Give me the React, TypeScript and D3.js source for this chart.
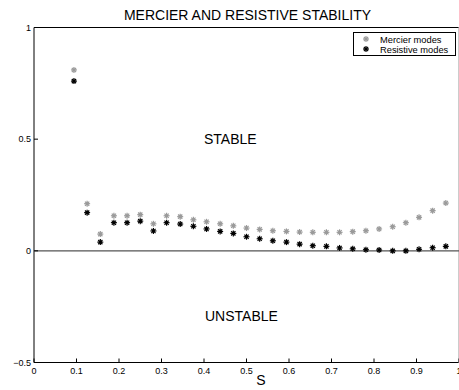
import React, { useRef, useEffect } from "react";
import * as d3 from "d3";

// S values (k/32)
const sValues = [
  0.094, 0.125, 0.156, 0.188, 0.219, 0.25, 0.281, 0.312, 0.344, 0.375, 0.406,
  0.438, 0.469, 0.5, 0.531, 0.562, 0.594, 0.625, 0.656, 0.688, 0.719, 0.75,
  0.781, 0.812, 0.844, 0.875, 0.906, 0.938, 0.969,
];
const mercier = [
  0.81, 0.211, 0.075, 0.157, 0.157, 0.162, 0.121, 0.157, 0.153, 0.139, 0.13,
  0.121, 0.112, 0.102, 0.096, 0.09, 0.087, 0.084, 0.083, 0.083, 0.083, 0.086,
  0.09, 0.098, 0.108, 0.126, 0.15, 0.18, 0.214,
];
const resistive = [
  0.76, 0.171, 0.039, 0.126, 0.126, 0.133, 0.089, 0.126, 0.12, 0.11, 0.098,
  0.087, 0.078, 0.063, 0.054, 0.045, 0.039, 0.03, 0.023, 0.02, 0.013, 0.009,
  0.005, 0.004, 0.0, 0.0, 0.007, 0.014, 0.02,
];
const xTicks = [0, 0.1, 0.2, 0.3, 0.4, 0.5, 0.6, 0.7, 0.8, 0.9, 1];
const yTicks = [-0.5, 0, 0.5, 1];
const seriesNames = ["Mercier modes", "Resistive modes"];
const seriesColors = ["#9a9a9a", "#000000"];

const font = "Liberation Sans, Arial, sans-serif";

const App = () => {
  const ref = useRef<SVGSVGElement>(null);

  useEffect(() => {
    if (!ref.current) return;
    const svg = d3.select(ref.current);
    svg.selectAll("*").remove();

    const left = 34, right = 459, top = 27.5, bottom = 362.5;
    const x = d3.scaleLinear().domain([0, 1]).range([left, right]);
    const y = d3.scaleLinear().domain([-0.5, 1]).range([bottom, top]);

    // star marker
    const drawStar = (g, cx, cy, color) => {
      const r = 3;
      for (let i = 0; i < 4; i++) {
        const a = (i * Math.PI) / 4;
        g.append("line")
          .attr("x1", cx - r * Math.cos(a))
          .attr("y1", cy - r * Math.sin(a))
          .attr("x2", cx + r * Math.cos(a))
          .attr("y2", cy + r * Math.sin(a))
          .attr("stroke", color)
          .attr("stroke-width", 1.2);
      }
      g.append("circle")
        .attr("cx", cx)
        .attr("cy", cy)
        .attr("r", 1.6)
        .attr("fill", color);
    };

    // title
    svg.append("text")
      .attr("x", 247.5)
      .attr("y", 20)
      .attr("text-anchor", "middle")
      .attr("font-family", font)
      .attr("font-size", 14)
      .text("MERCIER AND RESISTIVE STABILITY");

    // axes lines
    svg.append("line").attr("x1", left).attr("x2", left).attr("y1", top).attr("y2", bottom)
      .attr("stroke", "#000").attr("stroke-width", 1);
    svg.append("line").attr("x1", left).attr("x2", right).attr("y1", top).attr("y2", top)
      .attr("stroke", "#000").attr("stroke-width", 1);
    svg.append("line").attr("x1", left).attr("x2", right).attr("y1", bottom).attr("y2", bottom)
      .attr("stroke", "#000").attr("stroke-width", 1);
    svg.append("line").attr("x1", right - 0.5).attr("x2", right - 0.5).attr("y1", top).attr("y2", bottom)
      .attr("stroke", "#ccc").attr("stroke-width", 1);

    // zero line
    svg.append("line").attr("x1", left).attr("x2", right).attr("y1", y(0)).attr("y2", y(0))
      .attr("stroke", "#555").attr("stroke-width", 1.3);

    // x ticks
    xTicks.forEach((t) => {
      svg.append("line").attr("x1", x(t)).attr("x2", x(t)).attr("y1", bottom).attr("y2", bottom - 4)
        .attr("stroke", "#000");
      svg.append("text")
        .attr("x", x(t))
        .attr("y", bottom + 11)
        .attr("text-anchor", "middle")
        .attr("font-family", font)
        .attr("font-size", 9)
        .text(t === 0 || t === 1 ? String(t) : t.toFixed(1));
    });

    // y ticks
    yTicks.forEach((t) => {
      svg.append("line").attr("x1", left).attr("x2", left + 4).attr("y1", y(t)).attr("y2", y(t))
        .attr("stroke", "#000");
      svg.append("text")
        .attr("x", left - 3)
        .attr("y", y(t) + 3)
        .attr("text-anchor", "end")
        .attr("font-family", font)
        .attr("font-size", 9)
        .text(t < 0 ? "\u2212" + Math.abs(t) : String(t));
    });

    // x label
    svg.append("text")
      .attr("x", 261)
      .attr("y", 385)
      .attr("text-anchor", "middle")
      .attr("font-family", font)
      .attr("font-size", 14)
      .text("S");

    // region labels
    svg.append("text")
      .attr("x", 204)
      .attr("y", 143.5)
      .attr("font-family", font)
      .attr("font-size", 14)
      .text("STABLE");
    svg.append("text")
      .attr("x", 205)
      .attr("y", 320.5)
      .attr("font-family", font)
      .attr("font-size", 14)
      .text("UNSTABLE");

    // data
    const g = svg.append("g");
    sValues.forEach((s, i) => {
      drawStar(g, x(s), y(mercier[i]), seriesColors[0]);
    });
    sValues.forEach((s, i) => {
      drawStar(g, x(s), y(resistive[i]), seriesColors[1]);
    });

    // legend
    const lg = svg.append("g");
    lg.append("rect")
      .attr("x", 353.5)
      .attr("y", 32.5)
      .attr("width", 102)
      .attr("height", 23)
      .attr("fill", "#fff")
      .attr("stroke", "#000")
      .attr("stroke-width", 1);
    seriesNames.forEach((name, i) => {
      drawStar(lg, 366, 39 + i * 10, seriesColors[i]);
      lg.append("text")
        .attr("x", 380)
        .attr("y", 42.5 + i * 10)
        .attr("font-family", font)
        .attr("font-size", 9.3)
        .text(name);
    });
  }, []);

  return (
    <svg
      ref={ref}
      width={459}
      height={390}
      style={{ position: "absolute", left: 0, top: 0, background: "#fff" }}
    />
  );
};

export default App;
